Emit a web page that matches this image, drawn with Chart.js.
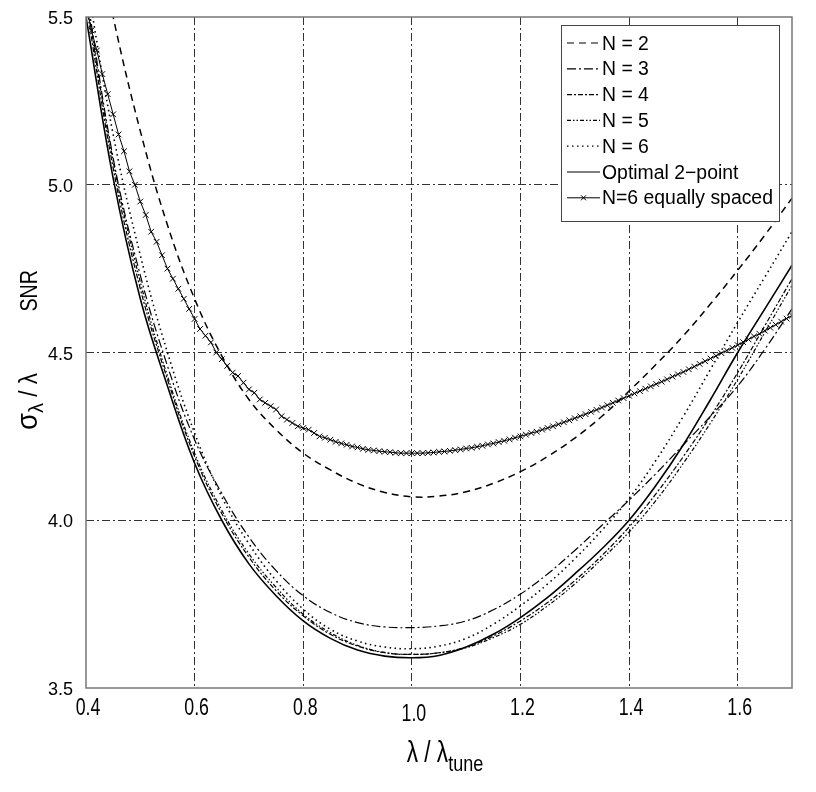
<!DOCTYPE html>
<html lang="en">
<head>
<meta charset="UTF-8">
<title>Sigma lambda vs lambda / lambda tune</title>
<script src="https://cdn.jsdelivr.net/npm/chart.js@4.4.1/dist/chart.umd.min.js"></script>
<style>
  body { margin: 0; background: #fff; }
  #wrap { width: 816px; height: 792px; position: relative; }
</style>
</head>
<body>
<div id="wrap"><canvas id="chart"></canvas></div>
<script>
// x positions of the smooth curves (every 0.05)
const xCoarse = [0.40, 0.45, 0.50, 0.55, 0.60, 0.65, 0.70, 0.75, 0.80, 0.85, 0.90, 0.95, 1.00,
  1.05, 1.10, 1.15, 1.20, 1.25, 1.30, 1.35, 1.40, 1.45, 1.50, 1.55, 1.60, 1.65, 1.70];

const n2 = [5.90, 5.50, 5.16, 4.88, 4.66, 4.49, 4.36, 4.27, 4.20, 4.15, 4.11, 4.083, 4.07,
  4.072, 4.085, 4.11, 4.145, 4.19, 4.245, 4.31, 4.385, 4.465, 4.55, 4.645, 4.745, 4.85, 4.96];
const n3 = [5.58, 5.08, 4.73, 4.46, 4.24, 4.08, 3.95, 3.85, 3.775, 3.725, 3.695, 3.682, 3.68,
  3.685, 3.70, 3.733, 3.78, 3.84, 3.91, 3.985, 4.06, 4.14, 4.225, 4.31, 4.40, 4.51, 4.63];
const n4 = [5.54, 5.05, 4.69, 4.42, 4.19, 4.02, 3.89, 3.79, 3.715, 3.66, 3.625, 3.605, 3.60,
  3.605, 3.622, 3.655, 3.70, 3.755, 3.82, 3.895, 3.98, 4.08, 4.19, 4.31, 4.44, 4.58, 4.72];
const n5 = [5.56, 5.07, 4.71, 4.43, 4.20, 4.03, 3.90, 3.80, 3.72, 3.665, 3.627, 3.606, 3.60,
  3.605, 3.62, 3.65, 3.69, 3.745, 3.81, 3.885, 3.965, 4.06, 4.17, 4.29, 4.42, 4.56, 4.70];
const n6 = [5.62, 5.15, 4.79, 4.50, 4.26, 4.07, 3.93, 3.82, 3.735, 3.675, 3.64, 3.622, 3.617,
  3.625, 3.648, 3.69, 3.745, 3.81, 3.885, 3.97, 4.065, 4.18, 4.31, 4.45, 4.59, 4.725, 4.86];
const optimal = [5.50, 5.02, 4.66, 4.40, 4.17, 4.00, 3.87, 3.775, 3.70, 3.648, 3.613, 3.595, 3.59,
  3.597, 3.622, 3.66, 3.71, 3.77, 3.84, 3.915, 4.00, 4.105, 4.225, 4.36, 4.50, 4.63, 4.76];

// N=6 equally spaced: marked every 0.01
const xFine = [
  0.40, 0.41, 0.42, 0.43, 0.44, 0.45, 0.46, 0.47, 0.48, 0.49,
  0.50, 0.51, 0.52, 0.53, 0.54, 0.55, 0.56, 0.57, 0.58, 0.59,
  0.60, 0.61, 0.62, 0.63, 0.64, 0.65, 0.66, 0.67, 0.68, 0.69,
  0.70, 0.71, 0.72, 0.73, 0.74, 0.75, 0.76, 0.77, 0.78, 0.79,
  0.80, 0.81, 0.82, 0.83, 0.84, 0.85, 0.86, 0.87, 0.88, 0.89,
  0.90, 0.91, 0.92, 0.93, 0.94, 0.95, 0.96, 0.97, 0.98, 0.99,
  1.00, 1.01, 1.02, 1.03, 1.04, 1.05, 1.06, 1.07, 1.08, 1.09,
  1.10, 1.11, 1.12, 1.13, 1.14, 1.15, 1.16, 1.17, 1.18, 1.19,
  1.20, 1.21, 1.22, 1.23, 1.24, 1.25, 1.26, 1.27, 1.28, 1.29,
  1.30, 1.31, 1.32, 1.33, 1.34, 1.35, 1.36, 1.37, 1.38, 1.39,
  1.40, 1.41, 1.42, 1.43, 1.44, 1.45, 1.46, 1.47, 1.48, 1.49,
  1.50, 1.51, 1.52, 1.53, 1.54, 1.55, 1.56, 1.57, 1.58, 1.59,
  1.60, 1.61, 1.62, 1.63, 1.64, 1.65, 1.66, 1.67, 1.68, 1.69,
  1.70];
const n6Equal = [
  5.54, 5.46, 5.40, 5.33, 5.27, 5.21, 5.15, 5.10, 5.04, 5.00,
  4.95, 4.91, 4.86, 4.83, 4.79, 4.75, 4.72, 4.69, 4.66, 4.63,
  4.60, 4.57, 4.55, 4.53, 4.50, 4.48, 4.46, 4.44, 4.43, 4.41,
  4.39, 4.38, 4.36, 4.35, 4.34, 4.33, 4.31, 4.30, 4.29, 4.28,
  4.275, 4.27, 4.26, 4.25, 4.246, 4.24, 4.234, 4.229, 4.225, 4.22,
  4.217, 4.213, 4.21, 4.208, 4.206, 4.204, 4.203, 4.201, 4.20, 4.20,
  4.20, 4.20, 4.20, 4.201, 4.202, 4.204, 4.205, 4.207, 4.209, 4.211,
  4.214, 4.216, 4.219, 4.222, 4.226, 4.229, 4.233, 4.237, 4.241, 4.246,
  4.25, 4.255, 4.26, 4.264, 4.27, 4.275, 4.28, 4.286, 4.292, 4.298,
  4.304, 4.31, 4.316, 4.323, 4.329, 4.336, 4.343, 4.35, 4.357, 4.364,
  4.371, 4.378, 4.385, 4.392, 4.399, 4.406, 4.413, 4.42, 4.428, 4.435,
  4.442, 4.45, 4.458, 4.466, 4.474, 4.482, 4.49, 4.498, 4.506, 4.514,
  4.522, 4.531, 4.539, 4.548, 4.556, 4.565, 4.574, 4.583, 4.592, 4.601,
  4.61];

const xTicks = [0.4, 0.6, 0.8, 1.0, 1.2, 1.4, 1.6];
const yTicks = [3.5, 4.0, 4.5, 5.0, 5.5];
const seriesLabels = ['N = 2', 'N = 3', 'N = 4', 'N = 5', 'N = 6', 'Optimal 2\u2212point', 'N=6 equally spaced'];

const FONT = '"Liberation Sans", Arial, sans-serif';

function pts(xs, ys) {
  return xs.map((x, i) => ({ x: x, y: ys[i] }));
}

function curve(label, ys, dash, width) {
  return {
    label: label,
    data: pts(xCoarse, ys),
    borderColor: '#000',
    borderWidth: width,
    borderDash: dash,
    pointRadius: 0,
    tension: 0.4,
    fill: false
  };
}

const datasets = [
  curve(seriesLabels[0], n2, [7, 5], 1.5),
  curve(seriesLabels[1], n3, [9, 3, 2, 3], 1.2),
  curve(seriesLabels[2], n4, [5, 2, 2, 2], 1.2),
  curve(seriesLabels[3], n5, [4, 2, 1.5, 2, 1.5, 2], 1.2),
  curve(seriesLabels[4], n6, [1.5, 3.5], 1.6),
  curve(seriesLabels[5], optimal, [], 1.6),
  {
    label: seriesLabels[6],
    data: pts(xFine, n6Equal),
    borderColor: '#000',
    borderWidth: 1,
    borderDash: [],
    pointStyle: 'crossRot',
    pointRadius: 4,
    pointBorderColor: '#000',
    pointBorderWidth: 1,
    tension: 0,
    fill: false
  }
];

// text squeezed horizontally, anchored at x (left / center / right per align)
function narrowText(ctx, text, x, y, font, squeeze, align) {
  ctx.save();
  ctx.font = font;
  const w = ctx.measureText(text).width * squeeze;
  let left = x;
  if (align === 'center') left = x - w / 2;
  if (align === 'right') left = x - w;
  ctx.translate(left, y);
  ctx.scale(squeeze, 1);
  ctx.textAlign = 'left';
  ctx.fillText(text, 0, 0);
  ctx.restore();
  return w;
}
function textWidth(ctx, text, font, squeeze) {
  ctx.save();
  ctx.font = font;
  const w = ctx.measureText(text).width * squeeze;
  ctx.restore();
  return w;
}

// frame, tick labels, axis titles and the boxed legend
const decor = {
  id: 'decor',
  afterDraw(chart) {
    const ctx = chart.ctx;
    const a = chart.chartArea;
    const sx = chart.scales.x, sy = chart.scales.y;
    ctx.save();
    ctx.setLineDash([]);
    ctx.strokeStyle = '#777';
    ctx.lineWidth = 1.5;
    ctx.strokeRect(a.left, a.top, a.right - a.left, a.bottom - a.top);

    ctx.fillStyle = '#000';

    // tick labels
    ctx.textBaseline = 'middle';
    yTicks.forEach(v => {
      narrowText(ctx, v.toFixed(1), 73, sy.getPixelForValue(v) + 2, '19px ' + FONT, 0.95, 'right');
    });
    ctx.textBaseline = 'top';
    xTicks.forEach(v => {
      const dy = v === 1.0 ? 6 : 0;
      narrowText(ctx, v.toFixed(1), sx.getPixelForValue(v) + 2, a.bottom + 8 + dy, '24px ' + FONT, 0.74, 'center');
    });

    // x title: lambda / lambda_tune
    ctx.textBaseline = 'alphabetic';
    const big = '29px ' + FONT, small = '22px ' + FONT;
    const mainX = '\u03bb / \u03bb';
    const wMain = textWidth(ctx, mainX, big, 0.78);
    const wSub = textWidth(ctx, 'tune', small, 0.82);
    const tx = (a.left + a.right) / 2 - (wMain + wSub) / 2 + 6;
    narrowText(ctx, mainX, tx, 762, big, 0.78, 'left');
    narrowText(ctx, 'tune', tx + wMain, 771, small, 0.82, 'left');

    // y title: sigma_lambda / lambda  SNR (rotated, total ~160 px long)
    ctx.save();
    ctx.translate(37, 350);
    ctx.rotate(-Math.PI / 2);
    const fSig = '29px ' + FONT, fSub = '21px ' + FONT, fMid = '25px ' + FONT, fSnr = '24px ' + FONT;
    const w1 = textWidth(ctx, '\u03c3', fSig, 0.95);
    const w2 = textWidth(ctx, '\u03bb', fSub, 0.95);
    const w3 = textWidth(ctx, ' / \u03bb', fMid, 0.9);
    const w4 = textWidth(ctx, 'SNR', fSnr, 0.82);
    const total = 160;
    const gap = total - (w1 + w2 + w3 + w4);
    let t = -total / 2;
    narrowText(ctx, '\u03c3', t, 0, fSig, 0.95, 'left'); t += w1;
    narrowText(ctx, '\u03bb', t, 6, fSub, 0.95, 'left'); t += w2;
    narrowText(ctx, ' / \u03bb', t, 0, fMid, 0.9, 'left'); t += w3 + gap;
    narrowText(ctx, 'SNR', t, 0, fSnr, 0.82, 'left');
    ctx.restore();

    // legend
    const bx = 561, by = 25, bw = 218, bh = 196;
    ctx.fillStyle = '#fff';
    ctx.fillRect(bx, by, bw, bh);
    ctx.strokeStyle = '#444';
    ctx.lineWidth = 1;
    ctx.strokeRect(bx + 0.5, by + 0.5, bw, bh);
    ctx.textBaseline = 'middle';
    chart.data.datasets.forEach((ds, i) => {
      const y = 43 + i * 25.8;
      ctx.strokeStyle = '#000';
      ctx.lineWidth = Math.min(ds.borderWidth, 1.2);
      ctx.setLineDash(ds.borderDash || []);
      ctx.beginPath();
      ctx.moveTo(567, y);
      ctx.lineTo(600, y);
      ctx.stroke();
      ctx.setLineDash([]);
      if (ds.pointStyle === 'crossRot') {
        ctx.lineWidth = 1;
        ctx.beginPath();
        ctx.moveTo(581, y - 2.5); ctx.lineTo(586, y + 2.5);
        ctx.moveTo(586, y - 2.5); ctx.lineTo(581, y + 2.5);
        ctx.stroke();
      }
      ctx.fillStyle = '#000';
      narrowText(ctx, ds.label, 602, y + 1, '20px ' + FONT, 0.97, 'left');
    });
    ctx.restore();
  }
};

function gridColor(edges) {
  return (c) => (c.tick && edges.includes(c.tick.value)) ? 'rgba(0,0,0,0)' : '#333';
}

new Chart(document.getElementById('chart'), {
  type: 'line',
  data: { datasets: datasets },
  options: {
    responsive: true,
    maintainAspectRatio: false,
    animation: false,
    layout: { padding: { left: 0, top: 17, right: 24, bottom: 0 } },
    plugins: { legend: { display: false }, tooltip: { enabled: false } },
    scales: {
      x: {
        type: 'linear',
        min: 0.4,
        max: 1.7,
        afterBuildTicks: (s) => { s.ticks = xTicks.map(v => ({ value: v })); },
        afterFit: (s) => { s.height = 104; },
        ticks: { display: false },
        grid: { color: gridColor([0.4, 1.7]), lineWidth: 1, drawTicks: false },
        border: { display: false, dash: [8, 3, 2, 3] }
      },
      y: {
        type: 'linear',
        min: 3.5,
        max: 5.5,
        afterBuildTicks: (s) => { s.ticks = yTicks.map(v => ({ value: v })); },
        afterFit: (s) => { s.width = 86; },
        ticks: { display: false },
        grid: { color: gridColor([3.5, 5.5]), lineWidth: 1, drawTicks: false },
        border: { display: false, dash: [8, 3, 2, 3] }
      }
    }
  },
  plugins: [decor]
});
</script>
</body>
</html>
